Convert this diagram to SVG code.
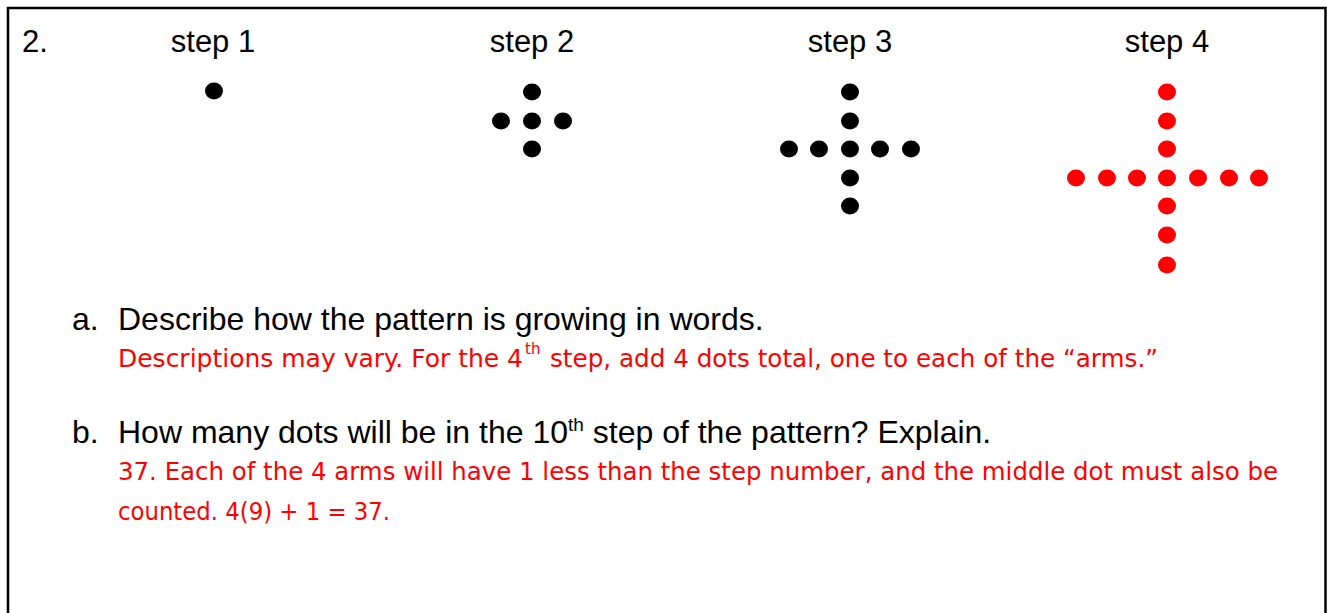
<svg xmlns="http://www.w3.org/2000/svg" width="1327" height="613" viewBox="0 0 1327 613">
<style>
.k{font-family:"Liberation Sans",Arial,sans-serif;fill:#000}
.r{font-family:"DejaVu Sans","Noto Sans",sans-serif;fill:#ff0000}
.bd{fill:#000}
.rd{fill:#ff0000}
</style>
<rect x="8" y="8" width="1317.5" height="640" fill="#fff" stroke="#000" stroke-width="2.5"/>
<g id="labels">
<text class="k" x="22" y="52" font-size="31">2.</text>
<text class="k" x="213" y="52" font-size="31" text-anchor="middle">step 1</text>
<text class="k" x="532" y="52" font-size="31" text-anchor="middle">step 2</text>
<text class="k" x="850" y="52" font-size="31" text-anchor="middle">step 3</text>
<text class="k" x="1167" y="52" font-size="31" text-anchor="middle">step 4</text>
</g>
<g id="step1">
<ellipse class="bd" cx="214" cy="91" rx="9" ry="8.5"/>
</g>
<g id="step2">
<ellipse class="bd" cx="532" cy="92" rx="9" ry="8.5"/>
<ellipse class="bd" cx="501" cy="121" rx="9" ry="8.5"/>
<ellipse class="bd" cx="532" cy="121" rx="9" ry="8.5"/>
<ellipse class="bd" cx="563" cy="121" rx="9" ry="8.5"/>
<ellipse class="bd" cx="532" cy="149" rx="9" ry="8.5"/>
</g>
<g id="step3">
<ellipse class="bd" cx="850" cy="92" rx="9" ry="8.5"/>
<ellipse class="bd" cx="850" cy="121" rx="9" ry="8.5"/>
<ellipse class="bd" cx="789" cy="149" rx="9" ry="8.5"/>
<ellipse class="bd" cx="819" cy="149" rx="9" ry="8.5"/>
<ellipse class="bd" cx="850" cy="149" rx="9" ry="8.5"/>
<ellipse class="bd" cx="880" cy="149" rx="9" ry="8.5"/>
<ellipse class="bd" cx="911" cy="149" rx="9" ry="8.5"/>
<ellipse class="bd" cx="850" cy="178" rx="9" ry="8.5"/>
<ellipse class="bd" cx="850" cy="206" rx="9" ry="8.5"/>
</g>
<g id="step4">
<ellipse class="rd" cx="1167" cy="92" rx="9" ry="8.5"/>
<ellipse class="rd" cx="1167" cy="121" rx="9" ry="8.5"/>
<ellipse class="rd" cx="1167" cy="149" rx="9" ry="8.5"/>
<ellipse class="rd" cx="1076" cy="178" rx="9" ry="8.5"/>
<ellipse class="rd" cx="1107" cy="178" rx="9" ry="8.5"/>
<ellipse class="rd" cx="1137" cy="178" rx="9" ry="8.5"/>
<ellipse class="rd" cx="1167" cy="178" rx="9" ry="8.5"/>
<ellipse class="rd" cx="1198" cy="178" rx="9" ry="8.5"/>
<ellipse class="rd" cx="1229" cy="178" rx="9" ry="8.5"/>
<ellipse class="rd" cx="1259" cy="178" rx="9" ry="8.5"/>
<ellipse class="rd" cx="1167" cy="206" rx="9" ry="8.5"/>
<ellipse class="rd" cx="1167" cy="235" rx="9" ry="8.5"/>
<ellipse class="rd" cx="1167" cy="265" rx="9" ry="8.5"/>
</g>
<g id="question-a">
<text class="k" x="72" y="330" font-size="32">a.</text>
<text class="k" x="118" y="330" font-size="32">Describe how the pattern is growing in words.</text>
<text class="r" y="367" font-size="25"><tspan x="118" textLength="405" lengthAdjust="spacingAndGlyphs">Descriptions may vary. For the 4</tspan><tspan x="525" y="354" font-size="15">th</tspan><tspan x="550" y="367" textLength="608" lengthAdjust="spacingAndGlyphs">step, add 4 dots total, one to each of the “arms.”</tspan></text>
</g>
<g id="question-b">
<text class="k" x="72" y="443" font-size="32">b.</text>
<text class="k" y="443" font-size="32"><tspan x="118">How many dots will be in the 10</tspan><tspan font-size="19" dy="-12">th</tspan><tspan dy="12"> step of the pattern? Explain.</tspan></text>
<text class="r" x="118" y="480" font-size="25" textLength="1160" lengthAdjust="spacingAndGlyphs">37. Each of the 4 arms will have 1 less than the step number, and the middle dot must also be</text>
<text class="r" x="118" y="520" font-size="25" textLength="272" lengthAdjust="spacingAndGlyphs">counted. 4(9) + 1 = 37.</text>
</g>
</svg>
